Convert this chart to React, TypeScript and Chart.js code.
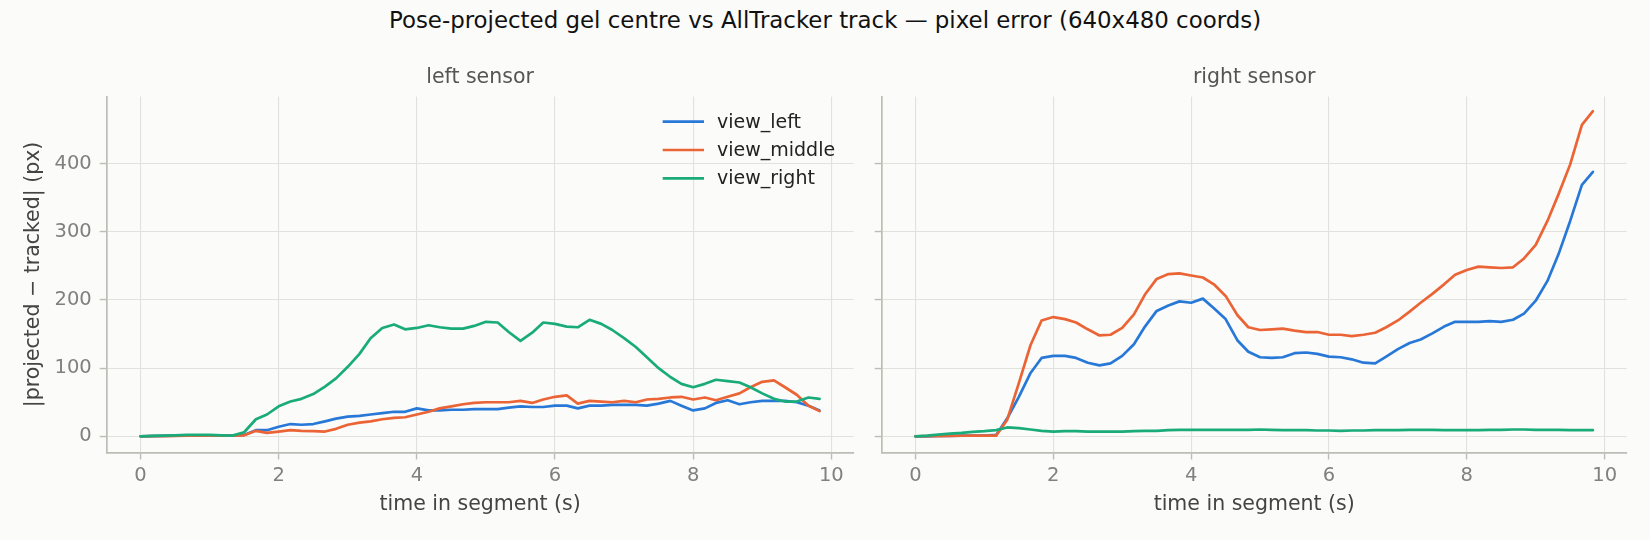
import React, { useEffect, useRef } from "react";
import { Chart, registerables } from "chart.js";

Chart.register(...registerables);

// ---------- data ----------
const TIME = [
  0, 0.17, 0.33, 0.5, 0.67, 0.83, 1, 1.17, 1.33, 1.5, 1.67, 1.83, 2, 2.17, 2.33, 2.5, 2.67, 2.83,
  3, 3.17, 3.33, 3.5, 3.67, 3.83, 4, 4.17, 4.33, 4.5, 4.67, 4.83, 5, 5.17, 5.33, 5.5, 5.67, 5.83,
  6, 6.17, 6.33, 6.5, 6.67, 6.83, 7, 7.17, 7.33, 7.5, 7.67, 7.83, 8, 8.17, 8.33, 8.5, 8.67, 8.83,
  9, 9.17, 9.33, 9.5, 9.67, 9.83,
];

const SERIES_NAMES = ["view_left", "view_middle", "view_right"];

// left sensor
const LEFT_VIEW_LEFT = [
  0, 0.3, 0.5, 0.8, 1, 1, 1, 1, 1, 2, 9, 9, 14, 18, 17, 18, 22, 26, 29, 30,
  32, 34, 36, 36, 41, 38, 38, 39, 39, 40, 40, 40, 42, 44, 43, 43, 45, 45, 41, 45,
  45, 46, 46, 46, 45, 48, 52, 45, 38, 41, 49, 53, 47, 50, 52, 52, 52, 50, 45, 38,
];
const LEFT_VIEW_MIDDLE = [
  0, 0.2, 0.4, 0.6, 0.8, 1, 1, 1, 1, 1.5, 8, 5, 7, 9, 8, 7.5, 7, 11, 17, 20,
  22, 25, 27, 28, 32, 36, 41, 44, 47, 49, 50, 50, 50, 52, 49, 54, 58, 60, 48, 52,
  51, 50, 52, 50, 54, 55, 57, 58, 54, 57, 53, 58, 63, 72, 80, 82, 72, 61, 45, 37,
];
const LEFT_VIEW_RIGHT = [
  0, 0.5, 1, 1.5, 2, 2, 2, 1.5, 1, 6, 25, 32, 44, 51, 55, 62, 73, 85, 102, 121,
  144, 159, 164, 157, 159, 163, 160, 158, 158, 162, 168, 167, 153, 140, 152, 167, 165, 161, 160, 171,
  165, 156, 144, 131, 116, 100, 87, 77, 72, 77, 83, 81, 79, 72, 63, 55, 51, 51, 57, 55,
];

// right sensor
const RIGHT_VIEW_LEFT = [
  0, 0, 0.5, 0.5, 1, 1, 1, 2, 26, 58, 93, 115, 118, 118, 115, 108, 104, 107, 118, 135,
  161, 184, 192, 198, 196, 202, 188, 172, 141, 124, 116, 115, 116, 122, 123, 121, 117, 116, 113, 108,
  107, 117, 128, 137, 142, 151, 161, 168, 168, 168, 169, 168, 171, 180, 199, 228, 267, 316, 369, 388,
];
const RIGHT_VIEW_MIDDLE = [
  0, 0.2, 0.4, 0.6, 0.8, 1, 1, 1, 24, 78, 134, 170, 175, 172, 167, 157, 148, 149, 159, 179,
  208, 231, 238, 239, 236, 233, 223, 206, 178, 160, 156, 157, 158, 155, 153, 153, 149, 149, 147, 149,
  152, 160, 170, 183, 196, 209, 223, 237, 244, 249, 248, 247, 248, 261, 281, 316, 355, 399, 457, 477,
];
const RIGHT_VIEW_RIGHT = [
  0, 1, 2.5, 4, 5, 6.5, 7.5, 9, 13, 12, 10, 8, 7, 7.5, 7.5, 7, 7, 7, 7, 7.5,
  8, 8, 9, 9.5, 9.5, 9.5, 9.5, 9.5, 9.5, 9.5, 10, 9.5, 9, 9, 9, 8.5, 8.5, 8, 8.5, 8.5,
  9, 9, 9, 9.5, 9.5, 9.5, 9, 9, 9, 9, 9.5, 9.5, 10, 10, 9.5, 9.5, 9.5, 9, 9, 9,
];

const X_TICKS = [0, 2, 4, 6, 8, 10];
const Y_TICKS = [0, 100, 200, 300, 400];

const FIG_TITLE = "Pose-projected gel centre vs AllTracker track — pixel error (640x480 coords)";
const PANEL_TITLES = ["left sensor", "right sensor"];
const X_LABEL = "time in segment (s)";
const Y_LABEL = "|projected − tracked| (px)";

// ---------- style ----------
const FONT = '"DejaVu Sans", "Liberation Sans", sans-serif';
const COLORS = ["#2878d8", "#eb6436", "#1aab7b"];
const BG = "#fbfbf9";
const GRID = "#e2e2dc";
const SPINE = "#bdbdb5";
const TICK_TEXT = "#808080";
const LINE_W = 2.7;

const innerLegend = {
  id: "innerLegend",
  afterDraw(chart: any, _args: any, opts: any) {
    if (!opts || !opts.show) return;
    const ctx = chart.ctx;
    ctx.save();
    chart.data.datasets.forEach((ds: any, k: number) => {
      const y = opts.y0 + k * opts.dy;
      ctx.strokeStyle = ds.borderColor;
      ctx.lineWidth = LINE_W;
      ctx.lineCap = "butt";
      ctx.beginPath();
      ctx.moveTo(opts.x0, y);
      ctx.lineTo(opts.x0 + opts.len, y);
      ctx.stroke();
      ctx.fillStyle = "#222222";
      ctx.font = `19px ${FONT}`;
      ctx.textBaseline = "middle";
      ctx.textAlign = "left";
      ctx.fillText(ds.label, opts.textX, y + 1);
    });
    ctx.restore();
  },
};

function makeConfig(
  series: number[][],
  title: string,
  showYLabels: boolean,
  yWidth: number,
  padRight: number,
  legend: boolean
): any {
  return {
    type: "line",
    data: {
      datasets: series.map((vals, k) => ({
        label: SERIES_NAMES[k],
        data: TIME.map((t, i) => ({ x: t, y: vals[i] })),
        borderColor: COLORS[k],
        backgroundColor: COLORS[k],
        borderWidth: LINE_W,
        pointRadius: 0,
        pointHoverRadius: 0,
        tension: 0,
        fill: false,
        order: 3 - k,
        borderJoinStyle: "round",
        borderCapStyle: "round",
      })),
    },
    plugins: legend ? [innerLegend] : [],
    options: {
      animation: false,
      responsive: false,
      maintainAspectRatio: false,
      events: [],
      layout: { padding: { top: 0, left: 0, right: padRight, bottom: 0 } },
      plugins: {
        legend: { display: false },
        tooltip: { enabled: false },
        title: {
          display: true,
          text: title,
          fullSize: false,
          color: "#555555",
          font: { family: FONT, size: 20.5, weight: "normal" },
          padding: { top: 65.2, bottom: 6.6 },
        },
        innerLegend: legend
          ? { show: true, x0: 662.7, len: 41.3, textX: 717, y0: 121.7, dy: 28.3 }
          : { show: false },
      },
      scales: {
        x: {
          type: "linear",
          min: -0.49,
          max: 10.32,
          afterBuildTicks: (s: any) => {
            s.ticks = X_TICKS.map((v) => ({ value: v }));
          },
          afterFit: (s: any) => {
            s.height = 87.5;
          },
          grid: { color: GRID, lineWidth: 1.1, tickColor: SPINE, tickLength: 7, tickWidth: 1.4 },
          border: { display: true, color: SPINE, width: 1.7 },
          ticks: {
            color: TICK_TEXT,
            font: { family: FONT, size: 19.5 },
            padding: 5,
            maxRotation: 0,
            autoSkip: false,
          },
          title: {
            display: true,
            text: X_LABEL,
            color: "#444444",
            font: { family: FONT, size: 20.5 },
            padding: { top: 0, bottom: 22.7 },
          },
        },
        y: {
          type: "linear",
          min: -23.75,
          max: 498.75,
          afterBuildTicks: (s: any) => {
            s.ticks = Y_TICKS.map((v) => ({ value: v }));
          },
          afterFit: (s: any) => {
            s.width = yWidth;
          },
          grid: { color: GRID, lineWidth: 1.1, tickColor: SPINE, tickLength: 7, tickWidth: 1.4 },
          border: { display: true, color: SPINE, width: 1.7 },
          ticks: {
            display: showYLabels,
            color: TICK_TEXT,
            font: { family: FONT, size: 19.5 },
            padding: 8,
          },
          title: {
            display: showYLabels,
            text: Y_LABEL,
            color: "#444444",
            font: { family: FONT, size: 20.5 },
            padding: { top: 21, bottom: 0 },
          },
        },
      },
    },
  };
}

export default function App() {
  const leftRef = useRef<HTMLCanvasElement | null>(null);
  const rightRef = useRef<HTMLCanvasElement | null>(null);

  useEffect(() => {
    const charts: Chart[] = [];
    if (leftRef.current) {
      charts.push(
        new Chart(
          leftRef.current,
          makeConfig(
            [LEFT_VIEW_LEFT, LEFT_VIEW_MIDDLE, LEFT_VIEW_RIGHT],
            PANEL_TITLES[0],
            true,
            106.7,
            16.6,
            true
          )
        )
      );
    }
    if (rightRef.current) {
      charts.push(
        new Chart(
          rightRef.current,
          makeConfig(
            [RIGHT_VIEW_LEFT, RIGHT_VIEW_MIDDLE, RIGHT_VIEW_RIGHT],
            PANEL_TITLES[1],
            false,
            11.7,
            23.3,
            false
          )
        )
      );
    }
    return () => {
      charts.forEach((c) => c.destroy());
    };
  }, []);

  return (
    <div
      style={{
        position: "fixed",
        left: 0,
        top: 0,
        width: 1650,
        height: 540,
        background: BG,
        overflow: "hidden",
        fontFamily: FONT,
      }}
    >
      <div
        style={{
          position: "absolute",
          left: 0,
          top: 9.3,
          width: 1650,
          textAlign: "center",
          fontSize: 22.9,
          lineHeight: "22.9px",
          color: "#111111",
          whiteSpace: "nowrap",
        }}
      >
        {FIG_TITLE}
      </div>
      <canvas
        ref={leftRef}
        width={870}
        height={540}
        style={{ position: "absolute", left: 0, top: 0, width: 870, height: 540, display: "block" }}
      />
      <canvas
        ref={rightRef}
        width={780}
        height={540}
        style={{ position: "absolute", left: 870, top: 0, width: 780, height: 540, display: "block" }}
      />
    </div>
  );
}
